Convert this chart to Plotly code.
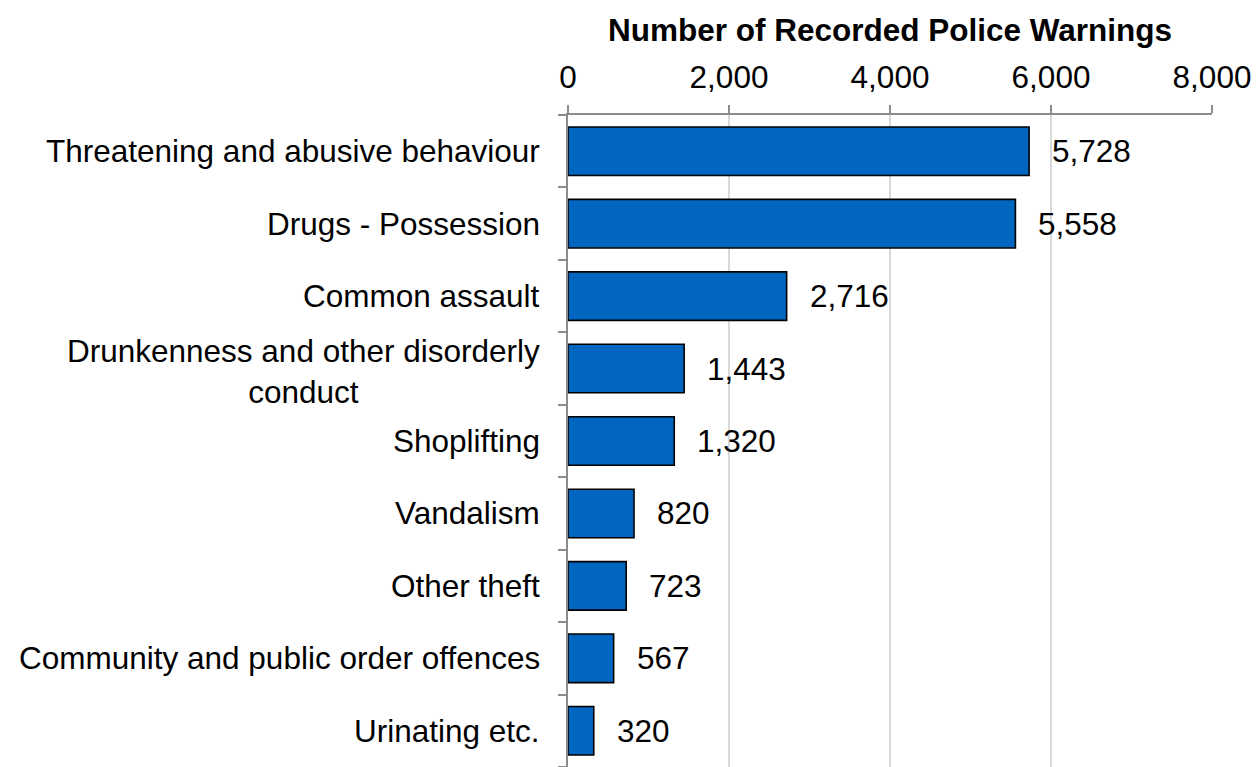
import plotly.graph_objects as go

# Offence categories (top to bottom) and recorded police warnings
categories = [
    "Threatening and abusive behaviour",
    "Drugs - Possession",
    "Common assault",
    "Drunkenness and other disorderly<br>conduct",
    "Shoplifting",
    "Vandalism",
    "Other theft",
    "Community and public order offences",
    "Urinating etc.",
]
warnings = [5728, 5558, 2716, 1443, 1320, 820, 723, 567, 320]

x_ticks = [0, 2000, 4000, 6000, 8000]
x_tick_labels = ["0", "2,000", "4,000", "6,000", "8,000"]

FONT = "Liberation Sans, Arial, sans-serif"
FS = 31.5
AXIS_GREY = "#8C8C8C"
GRID_GREY = "#D9D9D9"

fig = go.Figure(
    go.Bar(
        x=warnings,
        y=categories,
        orientation="h",
        marker=dict(color="#0066C0", line=dict(color="#000000", width=1.6)),
        hoverinfo="x+y",
    )
)

# Value labels to the right of each bar
for cat, val in zip(categories, warnings):
    fig.add_annotation(
        x=val, y=cat, xref="x", yref="y",
        text=f"{val:,}", showarrow=False,
        xanchor="left", yanchor="middle", xshift=21,
        font=dict(family=FONT, size=FS, color="#000000"),
    )

# Category labels, centred line by line
for cat in categories:
    fig.add_annotation(
        x=0, y=cat, xref="paper", yref="y",
        text=cat, showarrow=False, align="center",
        xanchor="right", yanchor="middle", xshift=-26,
        yshift=-3 if "<br>" in cat else 0,
        font=dict(family=FONT, size=FS, color="#000000"),
    )

fig.update_layout(
    width=1256, height=767,
    margin=dict(l=568, r=44, t=115, b=0),
    paper_bgcolor="white", plot_bgcolor="white",
    bargap=0.33,
    showlegend=False,
    font=dict(family=FONT, size=FS, color="#000000"),
    xaxis=dict(
        side="top",
        range=[0, 8000],
        tickvals=x_ticks, ticktext=x_tick_labels,
        showgrid=True, gridcolor=GRID_GREY, gridwidth=2,
        showline=True, linecolor=AXIS_GREY, linewidth=2,
        ticks="outside", ticklen=8, tickcolor=AXIS_GREY, tickwidth=2,
        tickfont=dict(family=FONT, size=FS, color="#000000"),
        ticklabelstandoff=4,
        zeroline=False,
        title=dict(
            text="<b>Number of Recorded Police Warnings</b>",
            font=dict(family=FONT, size=FS, color="#000000"),
            standoff=8,
        ),
    ),
    yaxis=dict(
        categoryorder="array", categoryarray=categories[::-1],
        showticklabels=False,
        showline=True, linecolor=AXIS_GREY, linewidth=2,
        ticks="outside", ticklen=8, tickcolor=AXIS_GREY, tickwidth=2,
        tickson="boundaries",
        showgrid=False, zeroline=False,
    ),
)

fig.write_html("out.html")
